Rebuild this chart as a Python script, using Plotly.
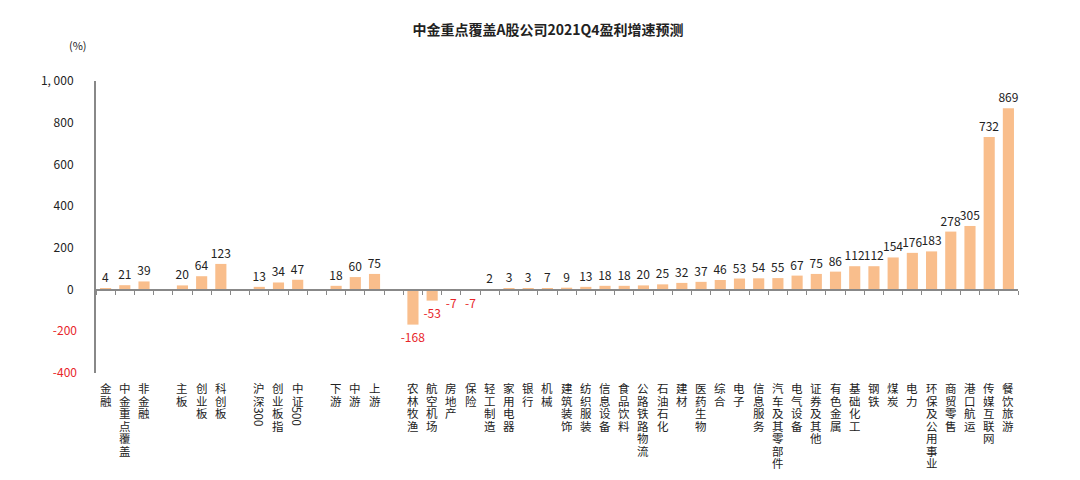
import plotly.graph_objects as go

# 分组类别（组间留一个空位）
groups = [
    ['金融', '中金重点覆盖', '非金融'],
    ['主板', '创业板', '科创板'],
    ['沪深300', '创业板指', '中证500'],
    ['下游', '中游', '上游'],
    ['农林牧渔', '航空机场', '房地产', '保险', '轻工制造', '家用电器', '银行', '机械',
     '建筑装饰', '纺织服装', '信息设备', '食品饮料', '公路铁路物流', '石油石化', '建材',
     '医药生物', '综合', '电子', '信息服务', '汽车及其零部件', '电气设备', '证券及其他',
     '有色金属', '基础化工', '钢铁', '煤炭', '电力', '环保及公用事业', '商贸零售',
     '港口航运', '传媒互联网', '餐饮旅游'],
]
group_values = [
    [4, 21, 39],
    [20, 64, 123],
    [13, 34, 47],
    [18, 60, 75],
    [-168, -53, -7, -7, 2, 3, 3, 7, 9, 13, 18, 18, 20, 25, 32, 37, 46, 53, 54, 55,
     67, 75, 86, 112, 112, 154, 176, 183, 278, 305, 732, 869],
]
y_ticks = [-400, -200, 0, 200, 400, 600, 800, 1000]
y_tick_labels = ['-400', '-200', '0', '200', '400', '600', '800', '1, 000']

# 计算类别位置
xs, labels, values = [], [], []
pos = 0
for names, vals in zip(groups, group_values):
    for n, v in zip(names, vals):
        xs.append(pos)
        labels.append(n)
        values.append(v)
        pos += 1
    pos += 1
n_slots = pos - 1

BAR = '#F9BE8C'
RED = '#E8262A'
text_colors = [RED if v < 0 else '#222222' for v in values]
pos_ticks = [(v, t) for v, t in zip(y_ticks, y_tick_labels) if v >= 0]
neg_ticks = [(v, t) for v, t in zip(y_ticks, y_tick_labels) if v < 0]
y_range = [y_ticks[0], y_ticks[-1]]


def split_tokens(s):
    # 汉字逐字竖排，连续的数字/字母作为一段旋转
    tokens, buf = [], ''
    for ch in s:
        if ch.isascii():
            buf += ch
        else:
            if buf:
                tokens.append(buf)
                buf = ''
            tokens.append(ch)
    if buf:
        tokens.append(buf)
    return tokens


# 竖排的类别标签
PITCH = 12.5
label_annotations = []
for x, lab in zip(xs, labels):
    offset = 7
    for tok in split_tokens(lab):
        if tok.isascii():
            span = len(tok) * 7 + 2
            label_annotations.append(dict(
                text=tok, x=x, xref='x', y=0, yref='paper', yanchor='middle',
                xanchor='center', yshift=-(offset + span / 2), textangle=90,
                width=span, height=12, showarrow=False,
                font=dict(size=11.5, color='#222222')))
            offset += span
        else:
            label_annotations.append(dict(
                text=tok, x=x, xref='x', y=0, yref='paper', yanchor='top',
                xanchor='center', yshift=-offset, height=PITCH, showarrow=False,
                font=dict(size=11.5, color='#222222')))
            offset += PITCH

fig = go.Figure()
fig.add_trace(go.Bar(
    x=xs,
    y=values,
    width=0.58,
    marker=dict(color=BAR, line=dict(width=0)),
    text=[str(v) for v in values],
    textposition='outside',
    textangle=0,
    constraintext='none',
    textfont=dict(size=12, color=text_colors),
    cliponaxis=False,
    hoverinfo='y',
))
# 零轴刻度线 / 负值刻度
fig.add_trace(go.Scatter(x=[0], y=[0], xaxis='x2', yaxis='y2', mode='markers',
                         marker=dict(opacity=0), hoverinfo='skip', showlegend=False))

zero_pos = (0 - y_ticks[0]) / (y_ticks[-1] - y_ticks[0])

fig.update_layout(
    width=1080,
    height=480,
    paper_bgcolor='white',
    plot_bgcolor='white',
    showlegend=False,
    margin=dict(l=88, r=70, t=73, b=115),
    font=dict(family='Noto Sans CJK SC, sans-serif', size=12, color='#222222'),
    title=dict(text='<b>中金重点覆盖A股公司2021Q4盈利增速预测</b>', x=0.5, xanchor='center',
               y=0.955, yanchor='middle', font=dict(size=14, color='#222222')),
    xaxis=dict(
        range=[-0.5, n_slots - 0.5],
        showticklabels=False,
        showline=False,
        showgrid=False,
        zeroline=False,
        ticks='',
        automargin=False,
    ),
    xaxis2=dict(
        overlaying='x',
        anchor='free',
        position=zero_pos,
        range=[-0.5, n_slots - 0.5],
        tick0=-0.5,
        dtick=1,
        ticks='outside',
        ticklen=4,
        tickcolor='#888888',
        showline=True,
        linecolor='#888888',
        linewidth=2,
        showticklabels=False,
        showgrid=False,
        zeroline=False,
        automargin=False,
    ),
    yaxis=dict(
        range=y_range,
        tickmode='array',
        tickvals=[v for v, _ in pos_ticks],
        ticktext=[t for _, t in pos_ticks],
        tickfont=dict(size=12, color='#222222'),
        showline=True,
        linecolor='#888888',
        linewidth=2,
        showgrid=False,
        zeroline=False,
        ticklabelstandoff=18,
        automargin=False,
    ),
    yaxis2=dict(
        overlaying='y',
        anchor='x',
        side='left',
        range=y_range,
        tickmode='array',
        tickvals=[v for v, _ in neg_ticks],
        ticktext=[t for _, t in neg_ticks],
        tickfont=dict(size=12, color=RED),
        showline=False,
        showgrid=False,
        zeroline=False,
        ticklabelstandoff=18,
        automargin=False,
    ),
    annotations=[dict(text='(%)', xref='paper', yref='paper', x=-0.008, y=1.125,
                      xanchor='right', yanchor='middle', showarrow=False,
                      font=dict(size=11, color='#222222'))] + label_annotations,
)

fig.write_html('out.html')
